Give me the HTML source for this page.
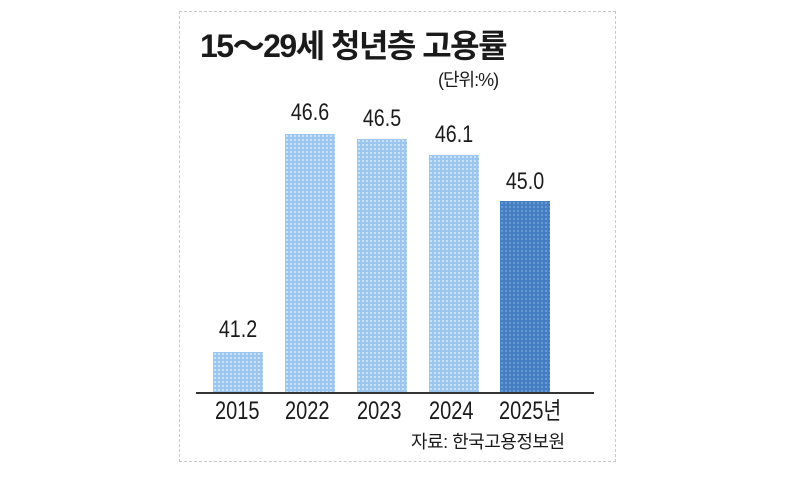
<!DOCTYPE html>
<html><head><meta charset="utf-8"><style>
body{margin:0;width:800px;height:480px;background:#fff;overflow:hidden;position:relative;font-family:"Liberation Sans","Noto Sans CJK KR",sans-serif;color:#1a1a1a}
.frame{position:absolute;left:179px;top:11px;width:437px;height:451px;border:1px dashed #c8c8c8;box-sizing:border-box}
.t{position:absolute;white-space:nowrap}
.bar{position:absolute;width:50px;bottom:88px;background:#9cc6ee;background-image:radial-gradient(#d2e8fa 30%,transparent 40%);background-size:4px 4px}
.dark{background:#467ec2;background-image:radial-gradient(#6f9fd8 30%,transparent 40%);background-size:4px 4px}
.v{position:absolute;width:70px;text-align:center;font-size:24px;line-height:28px;transform:scaleX(0.82)}
.y{position:absolute;top:396px;font-size:25px;line-height:30px;height:30px;transform:scaleX(0.8);transform-origin:left}
</style></head><body>
<div class="frame"></div>
<div class="t" style="left:200px;top:26px;font-size:32px;line-height:40px;font-weight:bold;letter-spacing:-1.5px">15～29세 청년층 고용률</div>
<div class="t" style="left:438px;top:68px;font-size:18px;line-height:24px;letter-spacing:-1px">(단위:%)</div>
<div class="bar" style="left:213px;top:352px"></div>
<div class="bar" style="left:285px;top:134px"></div>
<div class="bar" style="left:357px;top:139px"></div>
<div class="bar" style="left:429px;top:155px"></div>
<div class="bar dark" style="left:500px;top:201px"></div>
<div class="v" style="left:203px;top:316px">41.2</div>
<div class="v" style="left:275px;top:99px">46.6</div>
<div class="v" style="left:347px;top:105px">46.5</div>
<div class="v" style="left:419px;top:121px">46.1</div>
<div class="v" style="left:490px;top:168px">45.0</div>
<div style="position:absolute;left:196px;top:392px;width:398px;height:2px;background:#333"></div>
<div class="y" style="left:215px">2015</div>
<div class="y" style="left:285px">2022</div>
<div class="y" style="left:357px">2023</div>
<div class="y" style="left:429px">2024</div>
<div class="y" style="left:499px"><span style="font-family:'Liberation Sans',sans-serif">2025</span><span style="font-size:24px">년</span></div>
<div class="t" style="left:411px;top:430px;font-size:18px;line-height:24px;letter-spacing:-0.5px">자료: 한국고용정보원</div>
</body></html>
